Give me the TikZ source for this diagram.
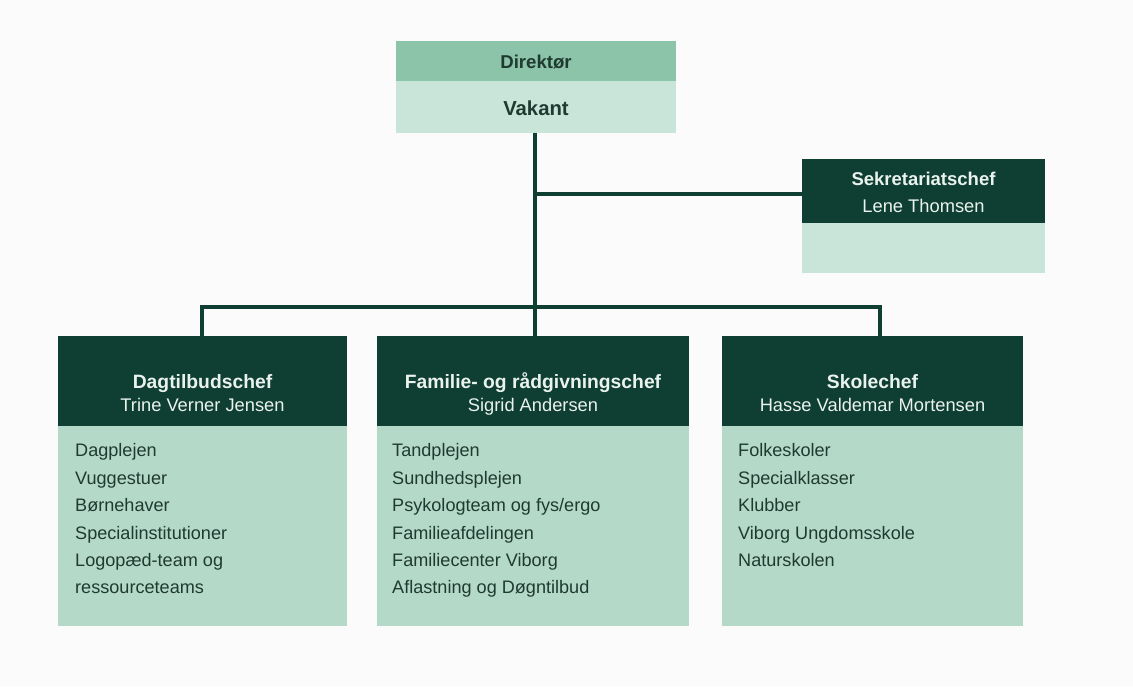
\documentclass[tikz,border=0pt]{standalone}
\usepackage{fontspec}
\setmainfont{Liberation Sans}
\definecolor{bg}{HTML}{FBFBFB}
\definecolor{darkg}{HTML}{0F3F32}
\definecolor{midg}{HTML}{8CC4AA}
\definecolor{paleg}{HTML}{C9E4D8}
\definecolor{bodyg}{HTML}{B5D9C9}
\definecolor{headtxt}{HTML}{EAF2EE}
\definecolor{txt}{HTML}{1F3A31}
\tikzset{
  x=1pt, y=-1pt,
  conn/.style={draw=darkg, line width=4pt},
  boxpart/.style={inner sep=0pt, outer sep=0pt, anchor=north west, draw=none},
  head/.style={boxpart, fill=darkg},
  body/.style={boxpart, fill=bodyg},
  titletxt/.style={font=\fontsize{19.3}{21}\selectfont\bfseries, text=headtxt, anchor=base, inner sep=0pt},
  nametxt/.style={font=\fontsize{18.3}{20}\selectfont, text=headtxt, anchor=base, inner sep=0pt},
  itemtxt/.style={font=\fontsize{18.1}{27.4}\selectfont, text=txt, align=left, anchor=north west, inner sep=0pt},
}
\begin{document}
\begin{tikzpicture}
\fill[bg] (0,0) rectangle (1133,686);
\useasboundingbox (0,0) rectangle (1133,686);

% Director
\node[boxpart, fill=midg, minimum width=280pt, minimum height=40pt] (dirh) at (396,41) {};
\node[boxpart, fill=paleg, minimum width=280pt, minimum height=52pt] (dirb) at (396,81) {};
\node[font=\fontsize{18.6}{20}\selectfont\bfseries, text=txt, anchor=base, inner sep=0pt] (dirt) at (536,68.5) {Direktør};
\node[font=\fontsize{20.3}{22}\selectfont\bfseries, text=txt, anchor=base, inner sep=0pt] (dirn) at (536,115.5) {Vakant};

% Sekretariat
\node[head, minimum width=243pt, minimum height=64pt] (sekh) at (802,159) {};
\node[boxpart, fill=paleg, minimum width=243pt, minimum height=50pt] (sekb) at (802,223) {};
\node[titletxt, font=\fontsize{18.5}{20}\selectfont\bfseries] (sekt) at (923.5,185.5) {Sekretariatschef};
\node[nametxt] (sekn) at (923.5,212.5) {Lene Thomsen};

% Left
\node[head, minimum width=289pt, minimum height=90pt] (lh) at (58,336) {};
\node[body, minimum width=289pt, minimum height=200pt] (lb) at (58,426) {};
\node[titletxt] (lt) at (202.5,388) {Dagtilbudschef};
\node[nametxt] (ln) at (202.5,411.5) {Trine Verner Jensen};
\node[itemtxt] (li) at (75,443.5) {Dagplejen\\Vuggestuer\\Børnehaver\\Specialinstitutioner\\Logopæd-team og\\ressourceteams};

% Middle
\node[head, minimum width=312pt, minimum height=90pt] (mh) at (377,336) {};
\node[body, minimum width=312pt, minimum height=200pt] (mb) at (377,426) {};
\node[titletxt] (mt) at (533,388) {Familie- og rådgivningschef};
\node[nametxt] (mn) at (533,411.5) {Sigrid Andersen};
\node[itemtxt] (mi) at (392,443.5) {Tandplejen\\Sundhedsplejen\\Psykologteam og fys/ergo\\Familieafdelingen\\Familiecenter Viborg\\Aflastning og Døgntilbud};

% Right
\node[head, minimum width=301pt, minimum height=90pt] (rh) at (722,336) {};
\node[body, minimum width=301pt, minimum height=200pt] (rb) at (722,426) {};
\node[titletxt] (rt) at (872.5,388) {Skolechef};
\node[nametxt] (rn) at (872.5,411.5) {Hasse Valdemar Mortensen};
\node[itemtxt] (ri) at (738,443.5) {Folkeskoler\\Specialklasser\\Klubber\\Viborg Ungdomsskole\\Naturskolen};

% Connectors
\coordinate (jm) at (535,307);
\coordinate (js) at (535,194);
\coordinate (jl) at (202,307);
\coordinate (jr) at (880,307);
\draw[conn] (dirb.south -| js) -- (jm);
\draw[conn] (js) -- (sekh.west |- js);
\draw[conn, line cap=rect] (jl) -- (jr);
\draw[conn] (jl) -- (lh.north -| jl);
\draw[conn] (jm) -- (mh.north -| jm);
\draw[conn] (jr) -- (rh.north -| jr);
\end{tikzpicture}
\end{document}
